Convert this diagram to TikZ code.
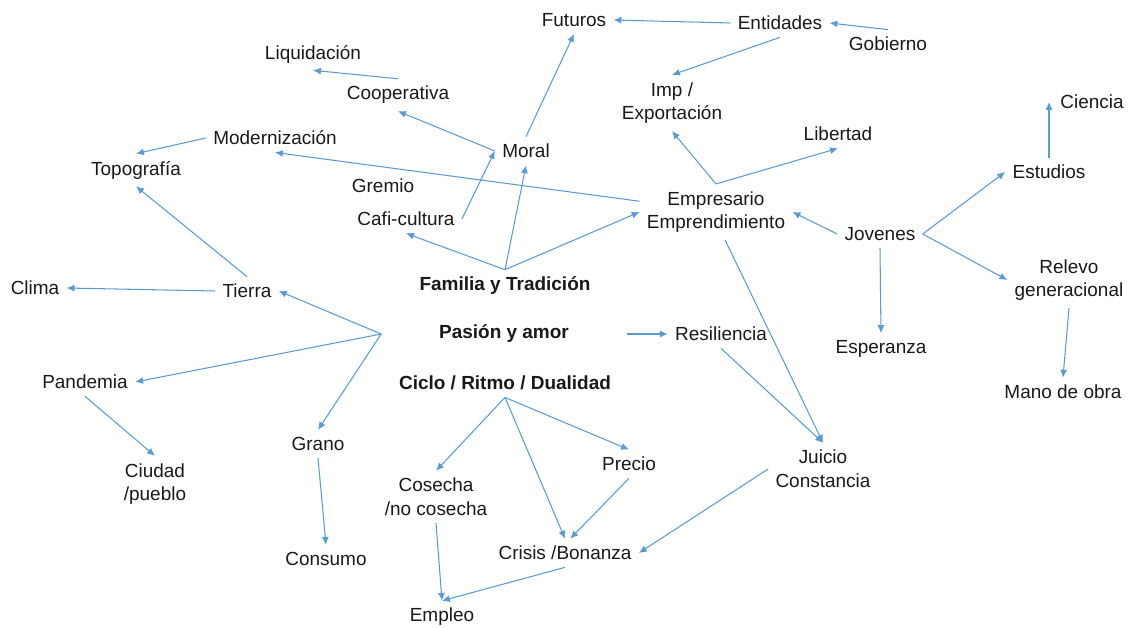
\documentclass[tikz,border=0pt]{standalone}
\usepackage{fontspec}
\setmainfont{Liberation Sans}
\usetikzlibrary{arrows.meta}
\definecolor{linkblue}{RGB}{91,155,213}

\begin{document}
\begin{tikzpicture}[x=0.02cm,y=-0.02cm,
  concept/.style={font=\fontsize{10.8}{13.5}\selectfont,text=black!90,align=center,inner sep=4pt},
  core/.style={concept,font=\fontsize{10.8}{13.5}\selectfont\bfseries},
  link/.style={draw=linkblue,line width=0.6pt,-{Latex[length=4.5pt,width=4pt]}}]
  \useasboundingbox (0,0) rectangle (1130,628);

  \node[concept] (fut)    at (574,20)   {Futuros};
  \node[concept] (ent)    at (780,23)   {Entidades};
  \node[concept] (gob)    at (888,44)   {Gobierno};
  \node[concept] (liq)    at (313,54)   {Liquidación};
  \node[concept] (coop)   at (398,95)   {Cooperativa};
  \node[concept] (imp)    at (672,103)  {Imp /\\Exportación};
  \node[concept] (mod)    at (275,138)  {Modernización};
  \node[concept] (topo)   at (136,170)  {Topografía};
  \node[concept] (moral)  at (526,151)  {Moral};
  \node[concept] (lib)    at (838,134)  {Libertad};
  \node[concept] (cien)   at (1092,102) {Ciencia};
  \node[concept] (grem)   at (383,186)  {Gremio};
  \node[concept] (est)    at (1049,172) {Estudios};
  \node[concept] (cafi)   at (406,219)  {Cafi-cultura};
  \node[concept] (emp)    at (716,212)  {Empresario\\Emprendimiento};
  \node[concept] (jov)    at (880,234)  {Jovenes};
  \node[core]    (fam)    at (505,286)  {Familia y Tradición};
  \node[concept] (clima)  at (35,288)   {Clima};
  \node[concept] (tierra) at (247,291)  {Tierra};
  \node[concept] (rel)    at (1069,280) {Relevo\\generacional};
  \node[core,minimum width=4.9cm] (pas) at (504,334) {Pasión y amor};
  \node[concept] (res)    at (721,334)  {Resiliencia};
  \node[concept] (esp)    at (881,349)  {Esperanza};
  \node[concept] (pand)   at (85,382)   {Pandemia};
  \node[core]    (ciclo)  at (505,383)  {Ciclo / Ritmo / Dualidad};
  \node[concept] (mano)   at (1063,392) {Mano de obra};
  \node[concept] (grano)  at (318,444)  {Grano};
  \node[concept] (juicio) at (823,469)  {Juicio\\Constancia};
  \node[concept] (precio) at (629,464)  {Precio};
  \node[concept] (ciud)   at (155,484)  {Ciudad\\/pueblo};
  \node[concept] (cos)    at (436,497)  {Cosecha\\/no cosecha};
  \node[concept] (crisis) at (565,553)  {Crisis /Bonanza};
  \node[concept] (cons)   at (326,559)  {Consumo};
  \node[concept] (empleo) at (442,617)  {Empleo};

  \draw[link] (ent.west) -- (fut.east);
  \draw[link] (gob.north) -- (ent.east);
  \draw[link] (ent.south) -- (imp.north);
  \draw[link] (coop.north) -- (liq.south);
  \draw[link] (moral.west) -- (coop.south);
  \draw[link] (moral.north) -- (fut.south);
  \draw[link] (mod.west) -- (topo.north);
  \draw[link] (emp.172) -- (mod.south);
  \draw[link] (cafi.east) -- (moral.west);
  \draw[link] (fam.north) -- (cafi.south);
  \draw[link] (fam.north) -- (moral.south);
  \draw[link] (fam.north) -- (emp.west);
  \draw[link] (emp.north) -- (imp.south);
  \draw[link] (emp.north) -- (lib.south);
  \draw[link] (jov.west) -- (emp.east);
  \draw[link] (jov.east) -- (est.west);
  \draw[link] (jov.east) -- (rel.west);
  \draw[link] (jov.south) -- (esp.north);
  \draw[link] (est.north) -- (est.north |- cien.west);
  \draw[link] (rel.south) -- (mano.north);
  \draw[link] (tierra.north) -- (topo.south);
  \draw[link] (tierra.west) -- (clima.east);
  \draw[link] (pas.west) -- (tierra.east);
  \draw[link] (pas.west) -- (pand.east);
  \draw[link] (pas.west) -- (grano.north);
  \draw[link] (pand.south) -- (ciud.north);
  \draw[link] (grano.south) -- (cons.north);
  \draw[link] (pas.east) -- (res.west);
  \draw[link] (ciclo.south) -- (cos.north);
  \draw[link] (ciclo.south) -- (crisis.north);
  \draw[link] (ciclo.south) -- (precio.north);
  \draw[link] (precio.south) -- (crisis.70);
  \draw[link] (juicio.west) -- (crisis.east);
  \draw[link] (res.south) -- (juicio.north);
  \draw[link] (emp.-72) -- (juicio.north);
  \draw[link] (cos.south) -- (empleo.north);
  \draw[link] (crisis.south) -- (empleo.north);
\end{tikzpicture}
\end{document}
